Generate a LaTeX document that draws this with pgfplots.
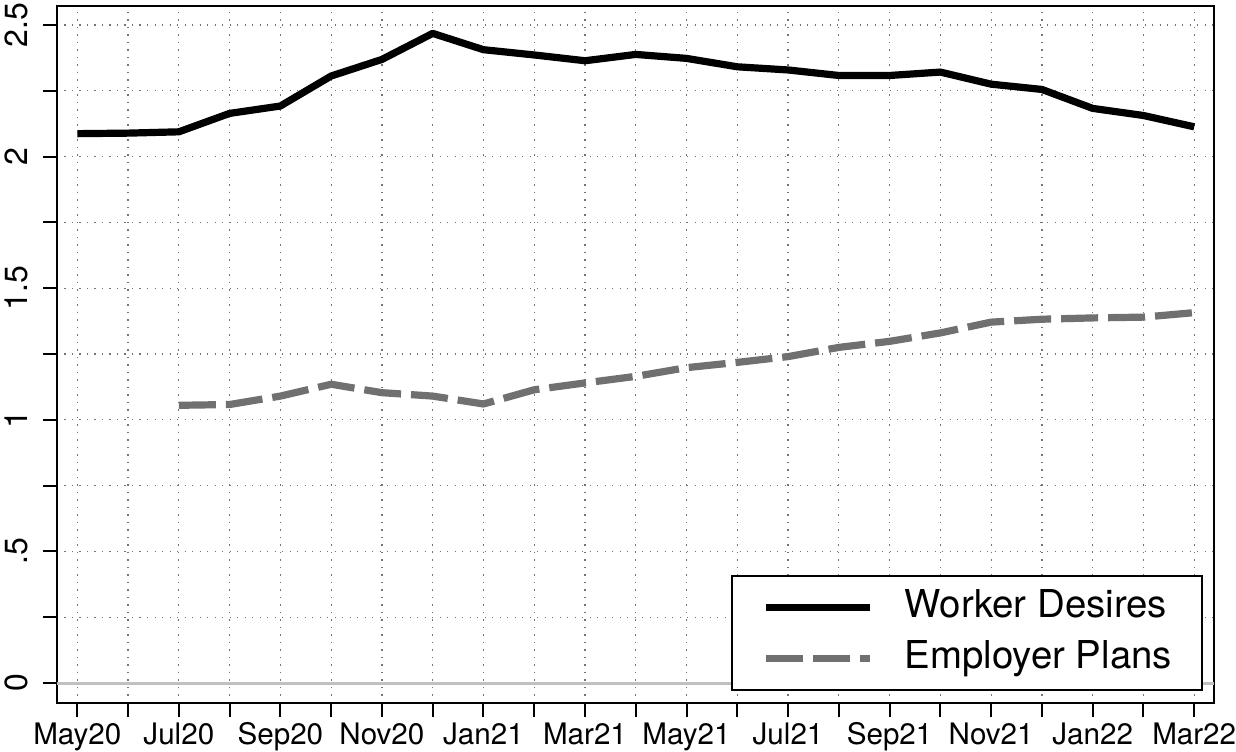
\documentclass[border=0pt]{standalone}
\usepackage{fontspec}
\setmainfont{TeX Gyre Heros}
\usepackage{pgfplots}
\pgfplotsset{compat=1.18}
\definecolor{empgray}{RGB}{112,112,112}
\definecolor{zerogray}{RGB}{192,192,192}
\begin{document}
\begin{tikzpicture}
\begin{axis}[
  name=ax, at={(0,0)}, anchor=south west,
  scale only axis, width=578.5pt, height=348.5pt,
  xmin=-0.40, xmax=22.39, ymin=-0.076, ymax=2.572,
  xtick={0,1,...,22},
  xticklabels={May20,,Jul20,,Sep20,,Nov20,,Jan21,,Mar21,,May21,,Jul21,,Sep21,,Nov21,,Jan22,,Mar22},
  ytick={0,0.25,0.5,0.75,1,1.25,1.5,1.75,2,2.25,2.5},
  yticklabels={0,,.5,,1,,1.5,,2,,2.5},
  tick align=outside, major tick length=7pt,
  xtick pos=left, ytick pos=left,
  tick style={black, line width=1pt},
  axis line style={line width=1pt},
  grid=major,
  major grid style={black!55, line width=0.6pt, dash pattern=on 0.6pt off 3.15pt},
  /pgf/number format/assume math mode=true,
  ticklabel style={inner sep=0pt},
  xticklabel style={anchor=base, font=\fontsize{14.8}{18}\selectfont},
  yticklabel style={rotate=90, anchor=south, font=\fontsize{16}{19}\selectfont},
  xticklabel shift=13.9pt,
  yticklabel shift=7.5pt,
  legend style={at={(1,0)}, anchor=south east, xshift=-5.5pt, yshift=6pt,
    draw=black, line width=1pt, fill=white,
    font=\fontsize{19.2}{23}\selectfont,
    inner xsep=15pt, inner ysep=6.5pt, row sep=7pt, column sep=15.5pt,
    nodes={inner sep=0pt, text height=14pt, text depth=4.5pt}},
  legend cell align=left,
  legend image code/.code={\draw[#1] (0pt,0pt) -- (52pt,0pt);},
]
\addplot[forget plot, color=zerogray, line width=1.5pt] coordinates {(-0.40,0) (22.39,0)};
\addplot[black, line width=3.6pt, line join=round] coordinates {
(0,2.087) (1,2.089) (2,2.094) (3,2.164) (4,2.192) (5,2.306) (6,2.369) (7,2.468)
(8,2.406) (9,2.386) (10,2.364) (11,2.388) (12,2.373) (13,2.341) (14,2.329)
(15,2.308) (16,2.308) (17,2.321) (18,2.275) (19,2.255) (20,2.183) (21,2.156) (22,2.113)};
\addlegendentry{Worker Desires}
\addplot[empgray, line width=3.6pt, line join=round, dash pattern=on 18.5pt off 5pt] coordinates {
(2,1.055) (3,1.058) (4,1.090) (5,1.135) (6,1.103) (7,1.090) (8,1.060) (9,1.114)
(10,1.140) (11,1.165) (12,1.198) (13,1.218) (14,1.240) (15,1.275) (16,1.298)
(17,1.330) (18,1.371) (19,1.382) (20,1.387) (21,1.390) (22,1.407)};
\addlegendentry{Employer Plans}
\end{axis}
\pgfresetboundingbox
\path[use as bounding box] ([xshift=-28.5pt,yshift=-24pt]ax.south west) rectangle ([xshift=11pt,yshift=3pt]ax.north east);
\end{tikzpicture}
\end{document}
